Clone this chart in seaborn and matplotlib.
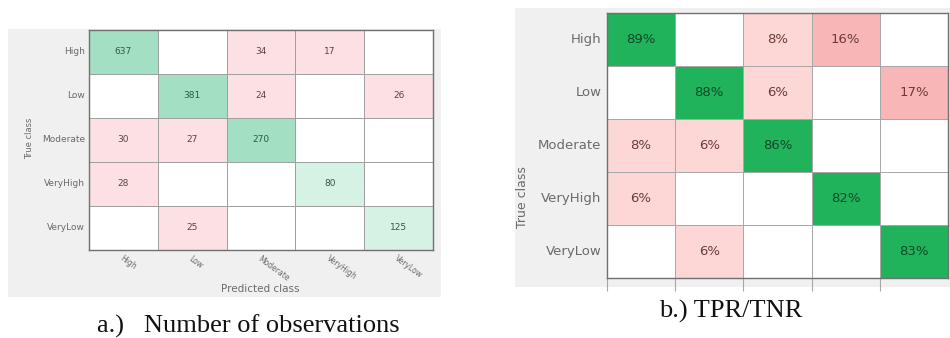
import numpy as np
import matplotlib
matplotlib.use("Agg")
import matplotlib.pyplot as plt
from matplotlib.colors import ListedColormap, BoundaryNorm
from matplotlib.patches import Rectangle
import seaborn as sns

classes = ["High", "Low", "Moderate", "VeryHigh", "VeryLow"]

# Number of observations (rows: true class, columns: predicted class)
counts = np.array([
    [637, 0, 34, 17, 0],
    [0, 381, 24, 0, 26],
    [30, 27, 270, 0, 0],
    [28, 0, 0, 80, 0],
    [0, 25, 0, 0, 125],
])

# TPR / TNR percentages
rates = np.array([
    [89, 0, 8, 16, 0],
    [0, 88, 6, 0, 17],
    [8, 6, 86, 0, 0],
    [6, 0, 0, 82, 0],
    [0, 6, 0, 0, 83],
])

W, H = 950, 338
fig = plt.figure(figsize=(W / 100, H / 100), dpi=100)
fig.patch.set_facecolor("white")


def px_axes(x0, y0, x1, y1):
    ax = fig.add_axes([x0 / W, 1 - y1 / H, (x1 - x0) / W, (y1 - y0) / H])
    ax.set_zorder(2)
    return ax


def signed(mat):
    eye = np.eye(mat.shape[0], dtype=bool)
    return np.where(eye, mat, -mat).astype(float)


def labels(mat, fmt):
    return np.where(mat == 0, "", np.vectorize(fmt)(mat))


def tint_annotations(ax, n, diag_color, off_color):
    # heatmap annotations are added row by row, empty strings included
    for k, t in enumerate(ax.texts):
        i, j = divmod(k, n)
        t.set_color(diag_color if i == j else off_color)


# panel backgrounds
for (x0, y0, x1, y1) in [(8, 29, 441, 297), (515, 8, 950, 287)]:
    fig.patches.append(Rectangle((x0 / W, 1 - y1 / H), (x1 - x0) / W, (y1 - y0) / H,
                                 transform=fig.transFigure, facecolor="#f0f0f0",
                                 edgecolor="none", zorder=-5))

# ---- a.) counts ----
ax1 = px_axes(89, 30, 433, 250)
cmap1 = ListedColormap(["#fde0e3", "#ffffff", "#d6f2e4", "#a3dfc3"])
norm1 = BoundaryNorm([-1e6, -0.5, 0.5, 200, 1e6], cmap1.N)
sns.heatmap(signed(counts), ax=ax1, cmap=cmap1, norm=norm1, cbar=False,
            annot=labels(counts, lambda v: f"{v}"), fmt="",
            annot_kws={"fontsize": 6.5},
            linewidths=0.6, linecolor="#a0a0a0",
            xticklabels=classes, yticklabels=classes)
tint_annotations(ax1, len(classes), "#2f5a44", "#5a4444")
for s in ax1.spines.values():
    s.set_visible(True)
    s.set_color("#707070")
    s.set_linewidth(1.0)
ax1.tick_params(axis="both", length=0, labelsize=6.5, labelcolor="#6a6a6a", pad=3)
ax1.set_yticklabels(classes, rotation=0)
ax1.set_xticklabels(classes, rotation=-36, ha="left", rotation_mode="anchor", fontsize=5.5)
ax1.tick_params(axis="x", pad=3)
ax1.set_xlabel("")
ax1.set_ylabel("")
fig.text(30 / W, 1 - 138 / H, "True class", rotation=90, ha="center", va="center",
         fontsize=6, color="#6a6a6a")
fig.text(260 / W, 1 - 289 / H, "Predicted class", ha="center", va="center",
         fontsize=7.5, color="#6a6a6a")

# ---- b.) TPR/TNR ----
ax2 = px_axes(607, 13, 948, 278)
cmap2 = ListedColormap(["#f8b6b6", "#fdd6d6", "#ffffff", "#20b35b"])
norm2 = BoundaryNorm([-1e6, -10, -0.5, 0.5, 1e6], cmap2.N)
sns.heatmap(signed(rates), ax=ax2, cmap=cmap2, norm=norm2, cbar=False,
            annot=labels(rates, lambda v: f"{v}%"), fmt="",
            annot_kws={"fontsize": 9.5},
            linewidths=0.6, linecolor="#a8a8a8",
            xticklabels=False, yticklabels=classes)
tint_annotations(ax2, len(classes), "#0e4a26", "#6e3a3a")
for s in ax2.spines.values():
    s.set_visible(True)
    s.set_color("#707070")
    s.set_linewidth(1.0)
ax2.set_yticklabels(classes, rotation=0)
ax2.tick_params(axis="y", length=0, labelsize=9.5, labelcolor="#6a6a6a", pad=4)
ax2.set_xticks(np.arange(0, 5))
ax2.set_xticklabels([""] * 5)
ax2.tick_params(axis="x", length=9, width=0.8, color="#a8a8a8", bottom=True)
ax2.set_xlabel("")
ax2.set_ylabel("")
fig.text(523 / W, 1 - 197 / H, "True class", rotation=90, ha="center", va="center",
         fontsize=9, color="#6a6a6a")

# captions
fig.text(248 / W, 1 - 326 / H, "a.)   Number of observations", ha="center", va="center",
         fontsize=19, family="Liberation Serif", color="#111111")
fig.text(731 / W, 1 - 311 / H, "b.) TPR/TNR", ha="center", va="center",
         fontsize=19, family="Liberation Serif", color="#111111")

fig.savefig("out.png", dpi=100, facecolor="white")
